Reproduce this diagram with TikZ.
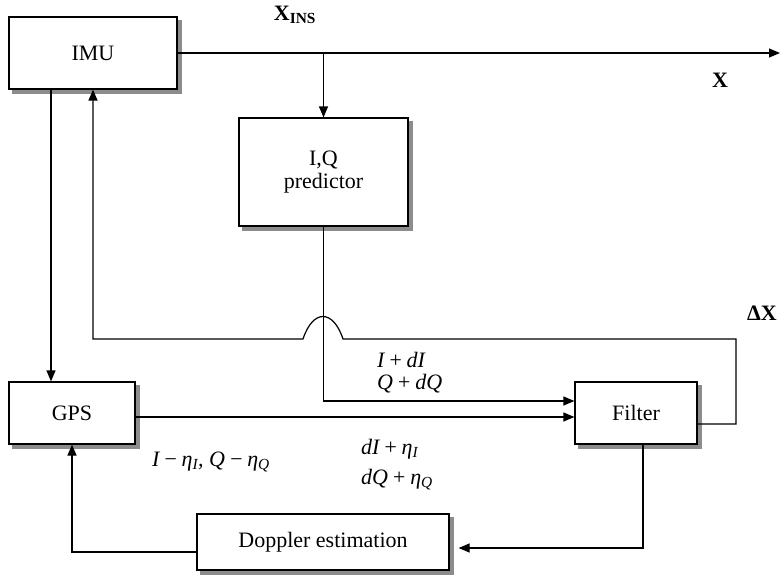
\documentclass[tikz,border=0pt]{standalone}
\usepackage{fontspec}
\setmainfont{Liberation Serif}
\usetikzlibrary{arrows.meta,backgrounds}

\begin{document}
\begin{tikzpicture}[
    x=1pt, y=-1pt,
    font=\fontsize{22}{23}\selectfont,
    block/.style={draw, line width=1.2pt, fill=white, inner sep=2pt, align=center},
    shade/.style={fill=black!45},
    flow/.style={-{Triangle[length=11pt, width=9pt]}, line width=1.2pt},
    lbl/.style={inner sep=0pt, align=left}
]
    \useasboundingbox (0,0) rectangle (780,576);

    % Blocks
    \node[block, minimum width=168pt, minimum height=72pt] (imu) at (93,53) {IMU};
    \node[block, minimum width=169pt, minimum height=108pt] (pred) at (323.5,172) {I,Q\\predictor};
    \node[block, minimum width=126pt, minimum height=62pt] (gps) at (72,413) {GPS};
    \node[block, minimum width=122pt, minimum height=62pt] (filter) at (636,413) {Filter};
    \node[block, minimum width=252pt, minimum height=56pt] (doppler) at (323,542) {Doppler estimation};

    % Shadows behind the blocks
    \begin{scope}[on background layer]
        \foreach \b in {imu,pred,gps,filter,doppler}
            \fill[shade] ([shift={(4pt,-4pt)}]\b.south west) rectangle ([shift={(4pt,-4pt)}]\b.north east);
    \end{scope}

    % INS output
    \coordinate (xout) at (780,53);
    \coordinate (split) at (323.5,53);
    \draw[flow] (imu.east) -- (xout);
    \draw[flow] (split) -- (pred.north);
    \node (xins) at (295,15) {\textbf{X}\textsubscript{\textbf{INS}}};
    \node (xlbl) at (720,80) {\textbf{X}};

    % Predictor and GPS into filter
    \draw[flow] (pred.south) |- ([yshift=12pt]filter.west);
    \draw[flow] ([yshift=-4pt]gps.east) -- ([yshift=-4pt]filter.west);
    \node[lbl, anchor=west, font=\itshape\fontsize{22}{22}\selectfont] (pq) at (377,373) {I\,+\,dI\\Q\,+\,dQ};

    % Correction back to IMU
    \coordinate (fbr) at (736,339);
    \coordinate (humpr) at (343,339);
    \coordinate (humpl) at (303,339);
    \draw[flow] ([yshift=-11pt]filter.east) -| (fbr) -- (humpr)
        .. controls (333,309) and (313,309) .. (humpl) -| (imu.south);
    \node (dx) at (762,313) {\textbf{ΔX}};

    % IMU aiding GPS
    \draw[flow] ([xshift=-42pt]imu.south) -- ([xshift=-42pt]imu.south |- gps.north);

    % Doppler loop
    \draw[flow] ([xshift=7pt]filter.south) |- ([xshift=9pt,yshift=-6pt]doppler.east);
    \draw[flow] ([yshift=-10pt]doppler.west) -| (gps.south);
    \node[lbl, anchor=west, font=\itshape\fontsize{22}{30}\selectfont] (res) at (361,465)
        {dI\,+\,η\textsubscript{I}\\dQ\,+\,η\textsubscript{Q}};
    \node[lbl, anchor=west, font=\itshape\fontsize{22}{23}\selectfont] (gout) at (152,462)
        {I\,−\,η\textsubscript{I}, Q\,−\,η\textsubscript{Q}};
\end{tikzpicture}
\end{document}
